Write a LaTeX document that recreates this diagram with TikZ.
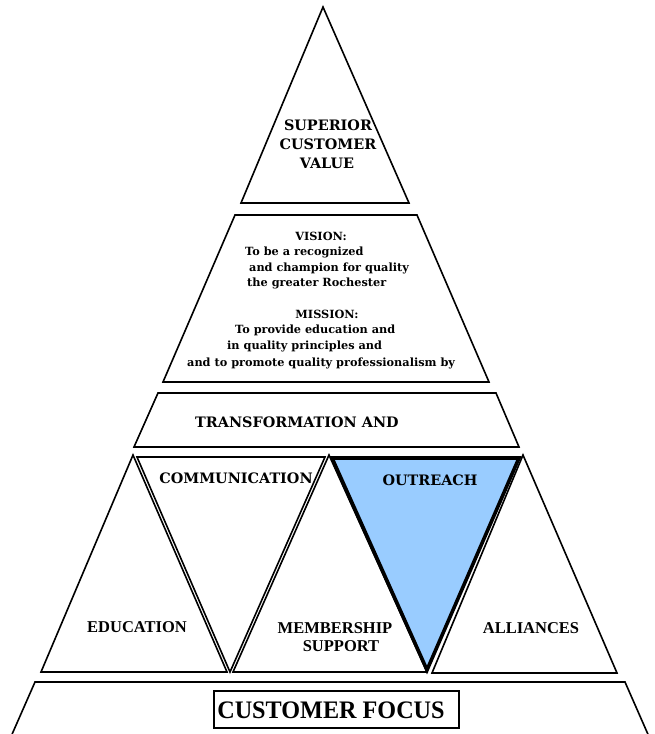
\documentclass[tikz,border=0pt]{standalone}
\usepackage{fontspec}
\setmainfont{Liberation Serif}
\newfontfamily\dvs{DejaVu Serif}
\begin{document}
\begin{tikzpicture}[x=1pt,y=-1pt,
  outl/.style={draw=black,line width=1.6pt,line join=miter},
  hot/.style={draw=black,line width=3.6pt,line join=miter,fill=skyb},
  wide/.style={font=\dvs\bfseries\fontsize{14.4}{17}\selectfont,inner sep=0pt},
  small/.style={font=\dvs\bfseries\fontsize{11.3}{14}\selectfont,inner sep=0pt,anchor=west},
  tms/.style={font=\bfseries\fontsize{16.5}{18}\selectfont,inner sep=0pt}]
\definecolor{skyb}{HTML}{99CCFF}
\useasboundingbox (0,0) rectangle (654,734);
\clip (0,0) rectangle (654,734);
\fill[white] (0,0) rectangle (654,734);
% top triangle
\draw[outl] (323,7) -- (409,203) -- (241,203) -- cycle;
\node[wide] (sup) at (328,125) {SUPERIOR};
\node[wide] (cus) at (328,144) {CUSTOMER};
\node[wide] (val) at (327,163) {VALUE};
% vision / mission
\draw[outl] (235,215) -- (417,215) -- (489,382) -- (163,382) -- cycle;
\node[small,anchor=center] (vis) at (321,236) {VISION:};
\node[small] (v1) at (245,252) {To be a recognized};
\node[small] (v2) at (249,268) {and champion for quality};
\node[small] (v3) at (247,283) {the greater Rochester};
\node[small,anchor=center] (mis) at (327,314) {MISSION:};
\node[small] (m1) at (235,330) {To provide education and};
\node[small] (m2) at (227,346) {in quality principles and};
\node[small] (m3) at (187,363) {and to promote quality professionalism by};
% transformation
\draw[outl] (158,393) -- (496,393) -- (519,447) -- (134,447) -- cycle;
\node[wide,anchor=west] (tra) at (195,422) {TRANSFORMATION AND};
% bottom row
\draw[outl] (133,455) -- (227,672) -- (41,672) -- cycle;
\draw[outl] (137,457) -- (325,457) -- (230,672) -- cycle;
\draw[outl] (329,455) -- (427,672) -- (233,672) -- cycle;
\draw[hot] (332,458) -- (519,458) -- (427,670) -- cycle;
\draw[outl] (523,455) -- (617,673) -- (432,673) -- cycle;
\node[tms] (edu) at (137,627) {EDUCATION};
\node[wide] (com) at (236,478) {COMMUNICATION};
\node[wide] (out) at (430,480) {OUTREACH};
\node[tms] (mem) at (335,628) {MEMBERSHIP};
\node[tms] (sppt) at (341,646) {SUPPORT};
\node[tms] (all) at (531,628) {ALLIANCES};
% customer focus
\draw[outl] (6,748) -- (35,682) -- (625,682) -- (654,748);
\draw[line width=1.6pt] (214,691) rectangle (459,728);
\node[font=\bfseries\fontsize{25.2}{27}\selectfont,inner sep=0pt,xscale=0.96] (cf) at (331,710) {CUSTOMER FOCUS};
\end{tikzpicture}
\end{document}
